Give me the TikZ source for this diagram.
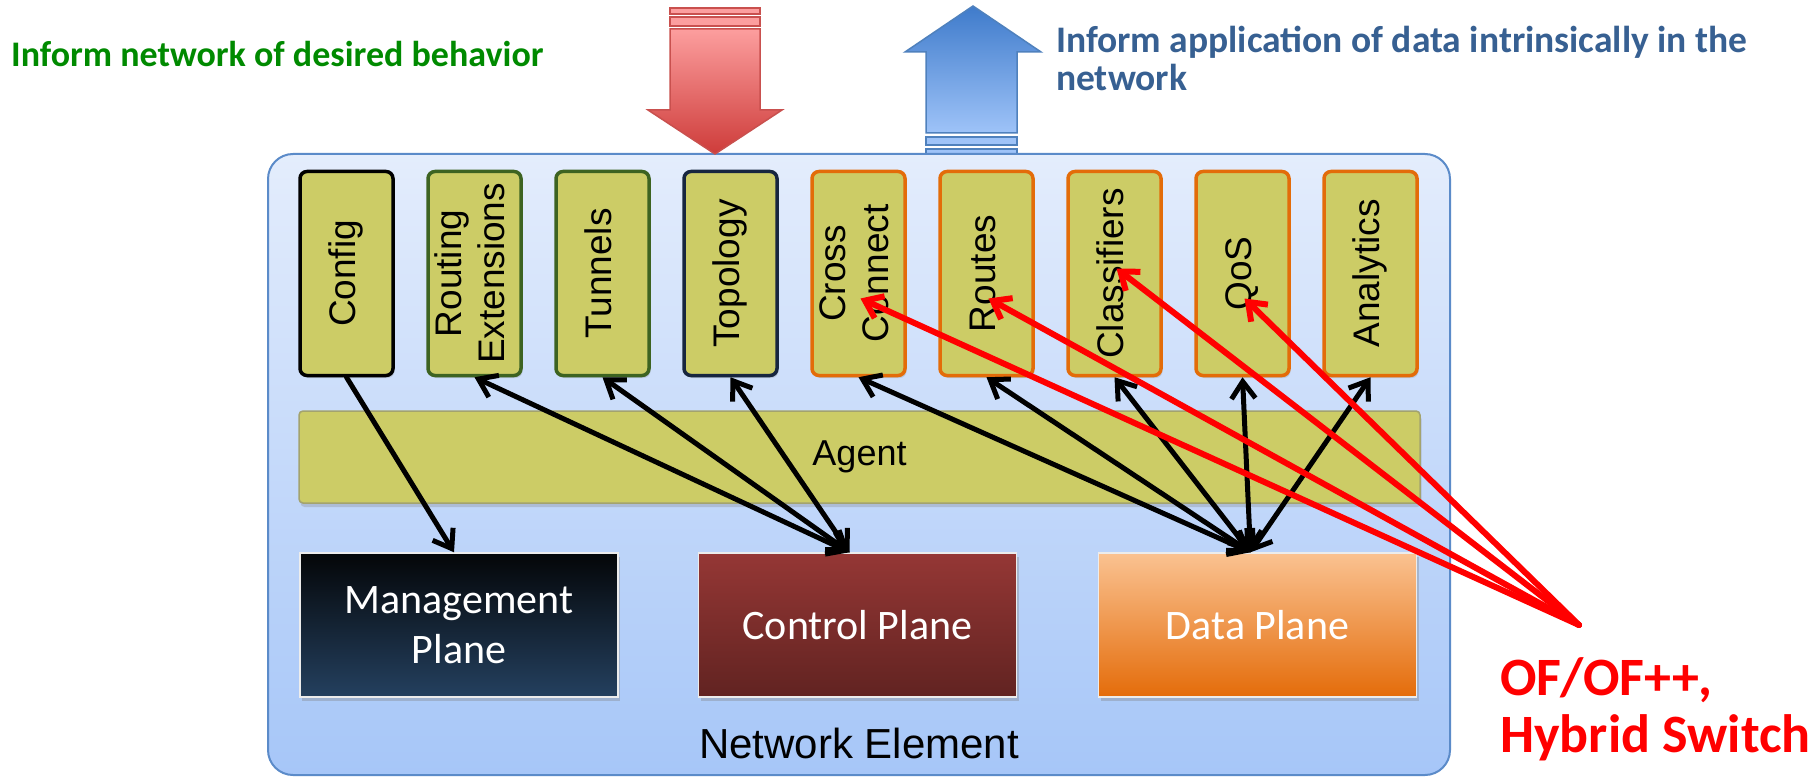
\documentclass[tikz,border=0pt]{standalone}
\usepackage{fontspec}
\setmainfont{Liberation Sans}
\newfontfamily\calib{Carlito}
\usetikzlibrary{arrows.meta,shadows,calc}

\definecolor{boxfill}{HTML}{CCCC66}
\definecolor{agentline}{HTML}{A3A36E}
\definecolor{neline}{HTML}{5B8BC9}
\definecolor{netop}{HTML}{E4EDFC}
\definecolor{nebot}{HTML}{A6C6F8}
\definecolor{orangeb}{HTML}{E36C09}
\definecolor{greenb}{HTML}{3D6321}
\definecolor{navyb}{HTML}{17263F}
\definecolor{mgtop}{HTML}{040608}
\definecolor{mgbot}{HTML}{24405F}
\definecolor{cptop}{HTML}{953735}
\definecolor{cpbot}{HTML}{612321}
\definecolor{dptop}{HTML}{FAC291}
\definecolor{dpbot}{HTML}{E46C0A}
\definecolor{infogreen}{HTML}{008A00}
\definecolor{infoblue}{HTML}{376092}
\definecolor{ofred}{HTML}{FF0000}
\definecolor{downtop}{HTML}{FC9E9E}
\definecolor{downbot}{HTML}{CE3C3A}
\definecolor{downline}{HTML}{C9504E}
\definecolor{uptop}{HTML}{3F7BCB}
\definecolor{upbot}{HTML}{9EC3F8}
\definecolor{upline}{HTML}{4F81BD}

\newcommand{\vlab}[1]{\rotatebox{90}{\begin{tabular}{@{}c@{}}#1\end{tabular}}}

\begin{document}
\begin{tikzpicture}[x=1pt,y=-1pt,
  topbox/.style={draw=#1, line width=3.5pt, fill=boxfill, rounded corners=7pt,
    minimum width=93pt, minimum height=204pt, inner sep=0pt,
    font=\fontsize{37}{43}\selectfont,
    drop shadow={shadow xshift=1.5pt, shadow yshift=-2.5pt, opacity=0.25}},
  planebox/.style 2 args={draw=white!85!gray, line width=1.5pt, top color=#1, bottom color=#2,
    minimum width=318pt, minimum height=144pt, inner sep=0pt, align=center,
    text=white, font=\calib\fontsize{42}{50}\selectfont,
    drop shadow={shadow xshift=2pt, shadow yshift=-4pt, opacity=0.35}},
  blk/.style={line width=5pt, line cap=round,
    arrows={Straight Barb[length=17pt,width=24pt]-Straight Barb[length=17pt,width=24pt]}},
  blkone/.style={line width=5pt, line cap=round, -{Straight Barb[length=17pt,width=24pt]}},
  redarr/.style={line width=6pt, draw=ofred, line cap=round, -{Straight Barb[length=16pt,width=24pt]}},
  infotext/.style={anchor=base west, inner sep=0pt, font=\calib\bfseries\fontsize{#1}{44}\selectfont},
  oftext/.style={anchor=base west, inner sep=0pt, text=ofred, font=\calib\bfseries\fontsize{54}{60}\selectfont}]

\useasboundingbox (0,0) rectangle (1814,778);
\fill[white] (0,0) rectangle (1814,778);

% stripes below the upward arrow (partly hidden by the element box)
\path[fill=upbot, draw=upline, line width=1.5pt] (926,137) rectangle (1017,145);
\path[fill=upbot, draw=upline, line width=1.5pt] (926,149) rectangle (1017,158);

% network element container
\node[draw=neline, line width=2pt, rounded corners=25pt, top color=netop, bottom color=nebot,
  minimum width=1182pt, minimum height=621pt, inner sep=0pt] (ne) at (859,464.5) {};
\node[anchor=base, inner sep=0pt, font=\fontsize{42}{50}\selectfont] (nelabel) at (859,758) {Network Element};

% upward arrow
\path[top color=uptop, bottom color=upbot, draw=upline, line width=1.5pt]
  (973,6) -- (1041,52) -- (1017,52) -- (1017,133) -- (926,133) -- (926,52) -- (905,52) -- cycle;

% downward arrow with its stripes
\path[fill=downtop, draw=downline, line width=1.5pt] (670,8) rectangle (760,14);
\path[fill=downtop, draw=downline, line width=1.5pt] (670,17) rectangle (760,26);
\path[top color=downtop, bottom color=downbot, draw=downline, line width=1.5pt]
  (670,29) -- (760,29) -- (760,110) -- (782,110) -- (715,154) -- (648,110) -- (670,110) -- cycle;

% captions
\node[infotext=36, text=infogreen] (behav) at (11,67) {Inform network of desired behavior};
\node[infotext=37.5, text=infoblue] (inapp1) at (1056,53) {Inform application of data intrinsically in the};
\node[infotext=37.5, text=infoblue] (inapp2) at (1056,91) {network};

% feature boxes
\foreach \nm/\lab/\bc [count=\i from 0] in {cfg/Config/black, rext/Routing\\Extensions/greenb,
    tun/Tunnels/greenb, topo/Topology/navyb, cc/Cross\\Connect/orangeb, rts/Routes/orangeb,
    cls/Classifiers/orangeb, qos/QoS/orangeb, ana/Analytics/orangeb}
  \node[topbox=\bc] (\nm) at ({346.5+128*\i},273.5) {\vlab{\lab}};

% agent bar
\node[draw=agentline, line width=1.5pt, fill=boxfill, rounded corners=4pt,
  minimum width=1121pt, minimum height=92pt, inner sep=0pt, font=\fontsize{36}{42}\selectfont,
  drop shadow={shadow xshift=1.5pt, shadow yshift=-4pt, opacity=0.3}] (agent) at (859.5,457) {Agent};

% planes
\node[planebox={mgtop}{mgbot}] (mg) at (459,625) {Management\\Plane};
\node[planebox={cptop}{cpbot}] (cp) at (857.5,625) {Control Plane};
\node[planebox={dptop}{dpbot}] (dp) at (1257.5,625) {Data Plane};

\coordinate (cphub) at ($(cp.north)+(-8,0)$);
\coordinate (dphub) at ($(dp.north)+(-7,0)$);

% agent links
\draw[blkone] (cfg.south) -- ($(mg.north)+(-5,0)$);
\foreach \t in {rext,tun,topo}
  \draw[blk] (cphub) -- (\t.south);
\foreach \t in {cc,rts,cls,qos,ana}
  \draw[blk] (dphub) -- (\t.south);

% OpenFlow / hybrid switch reach
\coordinate (ofhub) at (1579,625);
\draw[redarr] (ofhub) -- ($(cc.center)+(2,25)$);
\draw[redarr] (ofhub) -- ($(rts.center)+(2,25)$);
\draw[redarr] (ofhub) -- ($(cls.center)+(2,-5)$);
\draw[redarr] (ofhub) -- ($(qos.center)+(2,25)$);

\node[oftext] (of1) at (1500,695) {OF/OF++,};
\node[oftext] (of2) at (1500,752) {Hybrid Switch};

\end{tikzpicture}
\end{document}
